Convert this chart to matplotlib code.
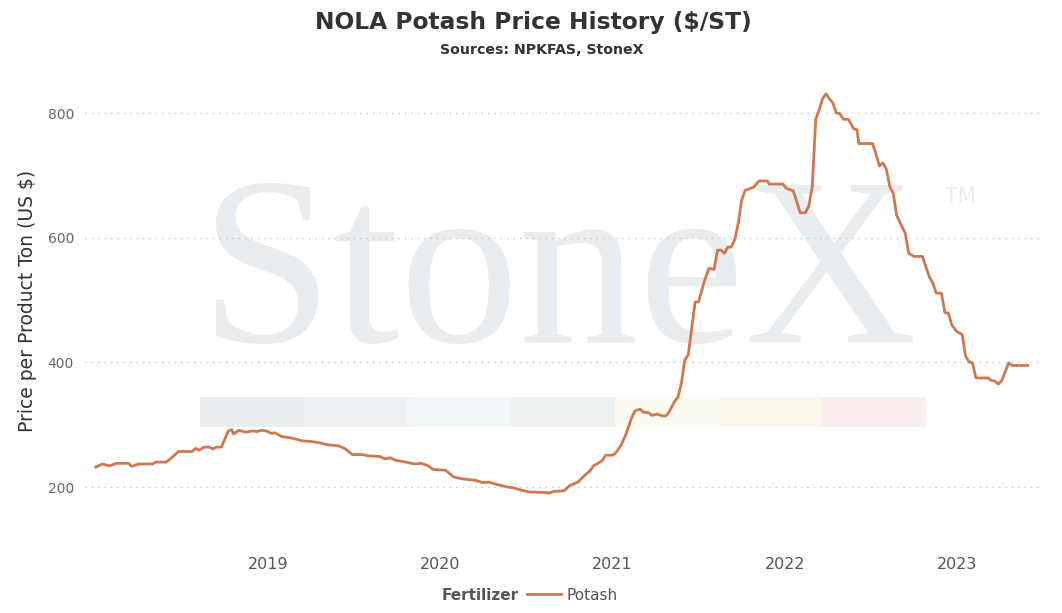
import matplotlib.pyplot as plt
from matplotlib.patches import Rectangle

# NOLA potash price (decimal year, $/short ton)
years = [2018.00, 2018.04, 2018.08, 2018.12, 2018.19, 2018.21, 2018.25, 2018.33, 2018.35, 2018.41,
         2018.45, 2018.48, 2018.56, 2018.58, 2018.60, 2018.63, 2018.66, 2018.68, 2018.70, 2018.73,
         2018.77, 2018.79, 2018.80, 2018.83, 2018.87, 2018.91, 2018.94, 2018.96, 2018.99, 2019.02,
         2019.04, 2019.08, 2019.13, 2019.16, 2019.20, 2019.25, 2019.30, 2019.34, 2019.41, 2019.45,
         2019.49, 2019.55, 2019.58, 2019.65, 2019.68, 2019.71, 2019.74, 2019.80, 2019.85, 2019.89,
         2019.93, 2019.96, 2020.03, 2020.08, 2020.13, 2020.20, 2020.25, 2020.28, 2020.33, 2020.39,
         2020.42, 2020.47, 2020.52, 2020.62, 2020.63, 2020.66, 2020.72, 2020.75, 2020.80, 2020.84,
         2020.87, 2020.89, 2020.94, 2020.96, 2021.00, 2021.02, 2021.05, 2021.08, 2021.11, 2021.13,
         2021.16, 2021.18, 2021.21, 2021.23, 2021.26, 2021.29, 2021.31, 2021.33, 2021.36, 2021.38,
         2021.40, 2021.42, 2021.44, 2021.48, 2021.50, 2021.53, 2021.56, 2021.59, 2021.61, 2021.63,
         2021.65, 2021.67, 2021.69, 2021.71, 2021.73, 2021.75, 2021.77, 2021.82, 2021.85, 2021.90,
         2021.91, 2021.99, 2022.01, 2022.05, 2022.09, 2022.12, 2022.14, 2022.16, 2022.18, 2022.20,
         2022.22, 2022.24, 2022.26, 2022.28, 2022.30, 2022.32, 2022.34, 2022.37, 2022.40, 2022.42,
         2022.43, 2022.51, 2022.53, 2022.55, 2022.57, 2022.59, 2022.61, 2022.63, 2022.65, 2022.67,
         2022.70, 2022.72, 2022.75, 2022.80, 2022.81, 2022.84, 2022.86, 2022.88, 2022.91, 2022.93,
         2022.95, 2022.97, 2023.00, 2023.03, 2023.05, 2023.07, 2023.09, 2023.11, 2023.18, 2023.20,
         2023.22, 2023.24, 2023.26, 2023.30, 2023.32, 2023.41]
price = [232, 237, 234, 238, 238, 233, 237, 237, 240, 240,
         249, 257, 257, 262, 259, 264, 264, 261, 264, 264,
         290, 292, 285, 291, 288, 290, 289, 291, 290, 286,
         287, 281, 279, 277, 274, 273, 271, 268, 266, 261,
         252, 252, 250, 249, 245, 247, 243, 240, 237, 238,
         234, 228, 227, 216, 213, 211, 207, 208, 204, 200,
         199, 195, 192, 191, 190, 193, 194, 202, 208, 219,
         226, 234, 242, 251, 251, 255, 267, 286, 310, 322,
         325, 320, 319, 315, 317, 314, 314, 321, 337, 344,
         366, 404, 412, 497, 497, 527, 551, 549, 580, 580,
         575, 585, 585, 597, 623, 660, 676, 681, 691, 691,
         686, 686, 679, 675, 640, 640, 651, 682, 790, 805,
         823, 831, 823, 816, 800, 799, 790, 790, 775, 773,
         751, 751, 734, 715, 720, 710, 682, 671, 636, 624,
         607, 575, 570, 570, 561, 537, 527, 511, 511, 480,
         479, 460, 449, 445, 410, 401, 399, 375, 375, 371,
         370, 365, 371, 399, 395, 395]

tick_years = [2019, 2020, 2021, 2022, 2023]
tick_labels = ['2019', '2020', '2021', '2022', '2023']
y_ticks = [200, 400, 600, 800]
strip_colors = ['#eaeef1', '#edf1f4', '#f1f6f8', '#edf2ef', '#fbfbf1', '#fbf7ec', '#f9edee']

W, H = 1062, 613
line_color = '#cf7850'
wm_color = '#e9edf0'

fig = plt.figure(figsize=(W / 100, H / 100), dpi=100)
ax = fig.add_axes([85 / W, 1 - 540 / H, (1040 - 85) / W, (540 - 80) / H])
ax.patch.set_alpha(0)

# watermark
ax.text(200 / W, 1 - 342 / H, 'StoneX', transform=fig.transFigure, family='Liberation Serif',
        fontsize=172, color=wm_color, ha='left', va='baseline', zorder=0)
ax.text(945 / W, 1 - 197 / H, 'TM', transform=fig.transFigure, fontsize=15,
        color=wm_color, ha='left', va='center', zorder=0)
sw = (926 - 200) / len(strip_colors)
for i, c in enumerate(strip_colors):
    ax.add_patch(Rectangle(((200 + i * sw) / W, 1 - 427 / H), sw / W, 30 / H,
                           transform=fig.transFigure, color=c, lw=0, zorder=0, clip_on=False))

ax.plot(years, price, color=line_color, lw=2, zorder=3, label='Potash')

ax.set_xlim(2017.938, 2023.482)
ax.set_ylim(115, 853)
ax.set_xticks(tick_years)
ax.set_xticklabels(tick_labels)
ax.set_yticks(y_ticks)
ax.tick_params(axis='y', length=0, pad=8, labelsize=10, labelcolor='#666666')
ax.tick_params(axis='x', length=0, pad=12, labelsize=11.5, labelcolor='#555555')
for s in ax.spines.values():
    s.set_visible(False)
ax.set_axisbelow(True)
ax.yaxis.grid(True, linestyle=(0, (1, 3.6)), color='#c8c8c8', lw=1)

ax.set_ylabel('Price per Product Ton (US $)', fontsize=13.5, color='#333333')
ax.yaxis.set_label_coords(-0.05, 0.52)

fig.text(533 / W, 1 - 22 / H, 'NOLA Potash Price History ($/ST)', ha='center', va='center',
         fontsize=16.8, fontweight='bold', color='#333333')
fig.text(542 / W, 1 - 50 / H, 'Sources: NPKFAS, StoneX', ha='center', va='center',
         fontsize=10.2, fontweight='bold', color='#333333')

fig.text(442 / W, 1 - 595 / H, 'Fertilizer', ha='left', va='center',
         fontsize=11, fontweight='bold', color='#555555')
ax.legend(loc='center left', bbox_to_anchor=(527 / W, 1 - 595 / H), bbox_transform=fig.transFigure,
          frameon=False, fontsize=11, handlelength=2.2, handletextpad=0.4,
          borderpad=0, borderaxespad=0, labelcolor='#555555')

fig.savefig('out.png', dpi=100)
